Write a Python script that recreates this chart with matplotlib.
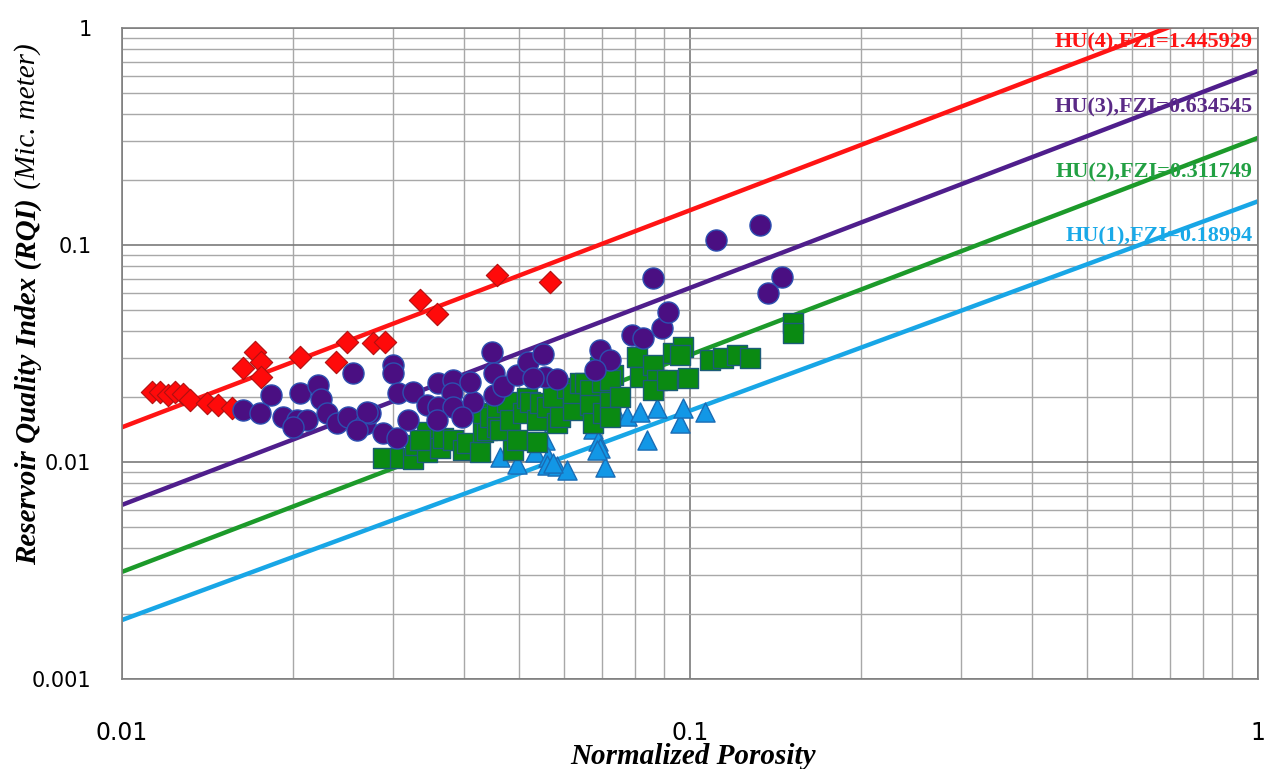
import numpy as np
import matplotlib
matplotlib.use("Agg")
import matplotlib.pyplot as plt
from matplotlib.ticker import LogLocator, NullFormatter, FixedLocator, FixedFormatter

# ---------------- data ----------------
# HU(4) red diamonds
hu4_phiz = [0.01128, 0.01167, 0.01205, 0.0124, 0.0128, 0.01317, 0.0141, 0.01476, 0.0156,
            0.01633, 0.01715, 0.0176, 0.0176, 0.02057, 0.0238, 0.0249, 0.02765, 0.029,
            0.0335, 0.0359, 0.0457, 0.0567]
hu4_rqi = [0.0211, 0.0211, 0.0204, 0.0211, 0.0205, 0.0193, 0.0187, 0.0183, 0.0177,
           0.0271, 0.0321, 0.0289, 0.0246, 0.0305, 0.0289, 0.0357, 0.0353, 0.0357,
           0.0558, 0.0481, 0.0728, 0.0675]

# HU(3) purple circles
hu3_phiz = [0.01633, 0.0175, 0.0183, 0.0192, 0.0206, 0.0203, 0.0212, 0.0221, 0.0224, 0.0230,
            0.0239, 0.0250, 0.0268, 0.0273, 0.0255, 0.0300, 0.0300, 0.0306, 0.0325, 0.0319,
            0.0288, 0.0305, 0.0270, 0.0259, 0.0344, 0.0360, 0.0383, 0.0381, 0.0360, 0.0383,
            0.0415, 0.0397, 0.0359, 0.0410, 0.0448, 0.0452, 0.0452, 0.0469, 0.0496, 0.0519,
            0.0551, 0.0556, 0.0583, 0.0529, 0.0694, 0.0723, 0.0680, 0.0790, 0.0827, 0.0893,
            0.0915, 0.0861, 0.1111, 0.1328, 0.1452, 0.1371, 0.0200]
hu3_rqi = [0.01738, 0.01682, 0.0204, 0.0161, 0.0208, 0.0156, 0.0156, 0.0226, 0.0195, 0.01682,
           0.0151, 0.0161, 0.0150, 0.0168, 0.0257, 0.0280, 0.0257, 0.0208, 0.0210, 0.0156,
           0.0136, 0.0129, 0.0170, 0.01404, 0.0183, 0.0231, 0.0239, 0.0208, 0.0179, 0.0179,
           0.0189, 0.0161, 0.0156, 0.0234, 0.0321, 0.0257, 0.0204, 0.0224, 0.0252, 0.0289,
           0.0315, 0.0246, 0.0241, 0.0243, 0.0328, 0.0295, 0.0265, 0.0385, 0.0373, 0.0414,
           0.0491, 0.0705, 0.1054, 0.1237, 0.0712, 0.0601, 0.0145]

# HU(2) green squares
hu2_phiz = [0.0288, 0.0309, 0.0325, 0.0328, 0.0344, 0.0344, 0.0363, 0.0367, 0.0383, 0.0398,
            0.0405, 0.0427, 0.0432, 0.0439, 0.0432, 0.0445, 0.0457, 0.0457, 0.0463, 0.0476,
            0.0482, 0.0488, 0.0496, 0.0508, 0.0516, 0.0523, 0.0538, 0.0538, 0.0544, 0.0560,
            0.0574, 0.0583, 0.0590, 0.0607, 0.0622, 0.0622, 0.0640, 0.0653, 0.0667, 0.0667,
            0.0675, 0.0700, 0.0703, 0.0723, 0.0732, 0.0694, 0.0723, 0.0753, 0.0723, 0.0807,
            0.0816, 0.0861, 0.0875, 0.0861, 0.0911, 0.0933, 0.0972, 0.0960, 0.0992, 0.1084,
            0.1143, 0.1210, 0.1275, 0.1518, 0.1518, 0.0335]
hu2_rqi = [0.01043, 0.01043, 0.01032, 0.0120, 0.0111, 0.01375, 0.0116, 0.0129, 0.01263, 0.01135,
           0.01224, 0.0111, 0.01375, 0.01404, 0.0168, 0.0161, 0.0168, 0.0145, 0.01404, 0.0189,
           0.0156, 0.01135, 0.01263, 0.0168, 0.0197, 0.0189, 0.0156, 0.01236, 0.0187, 0.0179,
           0.0199, 0.0151, 0.0161, 0.0219, 0.0174, 0.0208, 0.0231, 0.0231, 0.0215, 0.0183,
           0.0151, 0.0234, 0.0168, 0.0189, 0.0252, 0.0274, 0.0239, 0.0199, 0.0161, 0.0305,
           0.0246, 0.0280, 0.0239, 0.0215, 0.0239, 0.0318, 0.0339, 0.0311, 0.0244, 0.0295,
           0.0302, 0.0311, 0.0302, 0.0437, 0.0393, 0.01263]

# HU(1) blue triangles
hu1_phiz = [0.0463, 0.0496, 0.0534, 0.0556, 0.0562, 0.0560, 0.0583, 0.0607, 0.0675, 0.0689,
            0.0694, 0.0708, 0.0744, 0.0775, 0.0816, 0.0840, 0.0875, 0.0960, 0.0972, 0.1063,
            0.0574, 0.0686]
hu1_rqi = [0.01054, 0.0098, 0.0111, 0.01263, 0.01054, 0.0097, 0.00958, 0.0092, 0.0142, 0.0125,
           0.0116, 0.00948, 0.0165, 0.0163, 0.0170, 0.01263, 0.01774, 0.0151, 0.01774, 0.0170,
           0.0099, 0.01135]

# FZI lines (RQI at the two ends of the phi_z axis, as drawn in the chart)
line_phiz = [0.01, 1.0]
line_rqi = [[0.014459, 1.445929],   # HU(4)
            [0.006345, 0.634545],   # HU(3)
            [0.003117, 0.311749],   # HU(2)
            [0.00187, 0.159]]       # HU(1)
fzi_labels = ["HU(4),FZI=1.445929", "HU(3),FZI=0.634545", "HU(2),FZI=0.311749", "HU(1),FZI=0.18994"]
line_colors = ["#FF1414", "#4F1E8C", "#1C9A2A", "#18A6E6"]
text_colors = ["#FF1414", "#5A2A86", "#22A043", "#19A9E8"]
text_y = [0.853, 0.428, 0.215, 0.109]

x_ticks = [0.01, 0.1, 1]
x_ticklabels = ["0.01", "0.1", "1"]
y_ticks = [0.001, 0.01, 0.1, 1]
y_ticklabels = ["0.001", "0.01", "0.1", "1"]

# ---------------- plot ----------------
fig = plt.figure(figsize=(12.66, 7.69), dpi=100)
ax = fig.add_axes([122/1266, 1-679/769, (1258-122)/1266, (679-28)/769])
ax.set_xscale("log")
ax.set_yscale("log")
ax.set_xlim(0.01, 1)
ax.set_ylim(0.001, 1)

ax.xaxis.set_minor_locator(LogLocator(base=10, subs=np.arange(2, 10)))
ax.yaxis.set_minor_locator(LogLocator(base=10, subs=np.arange(2, 10)))
ax.xaxis.set_minor_formatter(NullFormatter())
ax.yaxis.set_minor_formatter(NullFormatter())
ax.grid(which="minor", color="#A8A8A8", lw=1.0)
ax.grid(which="major", color="#7A7A7A", lw=1.2)
ax.set_axisbelow(True)
for s in ax.spines.values():
    s.set_color("#808080")
    s.set_linewidth(1.2)
ax.tick_params(which="both", length=0)

ax.xaxis.set_major_locator(FixedLocator(x_ticks))
ax.xaxis.set_major_formatter(FixedFormatter(x_ticklabels))
ax.yaxis.set_major_locator(FixedLocator(y_ticks))
ax.yaxis.set_major_formatter(FixedFormatter(y_ticklabels))
for lab in ax.get_xticklabels():
    lab.set_fontfamily(["Liberation Sans Narrow", "DejaVu Sans"])
    lab.set_fontsize(17)
for lab in ax.get_yticklabels():
    lab.set_fontfamily("DejaVu Sans")
    lab.set_fontsize(15)
ax.tick_params(axis="x", pad=30)
ax.tick_params(axis="y", pad=22)

for rq, c in zip(line_rqi, line_colors):
    ax.plot(line_phiz, rq, color=c, lw=3.2, zorder=2, solid_capstyle="butt")

ax.scatter(hu1_phiz, hu1_rqi, marker="^", s=190, color="#1297E6", edgecolors="#1A6CB5", linewidths=1.0, zorder=3)
ax.scatter(hu2_phiz, hu2_rqi, marker="s", s=190, color="#0A8A12", edgecolors="#1B5C78", linewidths=1.0, zorder=4)
ax.scatter(hu4_phiz, hu4_rqi, marker="D", s=130, color="#FF0A0A", edgecolors="#B01010", linewidths=0.8, zorder=5)
ax.scatter(hu3_phiz, hu3_rqi, marker="o", s=230, color="#4A0F82", edgecolors="#2C4FB0", linewidths=1.0, zorder=6)

for lab, c, yv in zip(fzi_labels, text_colors, text_y):
    ax.text(0.995, yv, lab, color=c, ha="right", va="center", fontsize=16,
            fontfamily="Liberation Serif", fontweight="bold", zorder=7,
            transform=ax.get_yaxis_transform())

fig.text(693/1266, 1-756/769, "Normalized Porosity", ha="center", va="center",
         fontsize=21, fontfamily="Liberation Serif", fontweight="bold", fontstyle="italic")
fig.text(28/1266, 1-565/769, "Reservoir Quality Index (RQI)", rotation=90, ha="center", va="bottom",
         fontsize=21, fontfamily="Liberation Serif", fontweight="bold", fontstyle="italic")
fig.text(28/1266, 1-196/769, " (Mic. meter)", rotation=90, ha="center", va="bottom",
         fontsize=21, fontfamily="Liberation Serif", fontstyle="italic")

fig.savefig("out.png", dpi=100)
